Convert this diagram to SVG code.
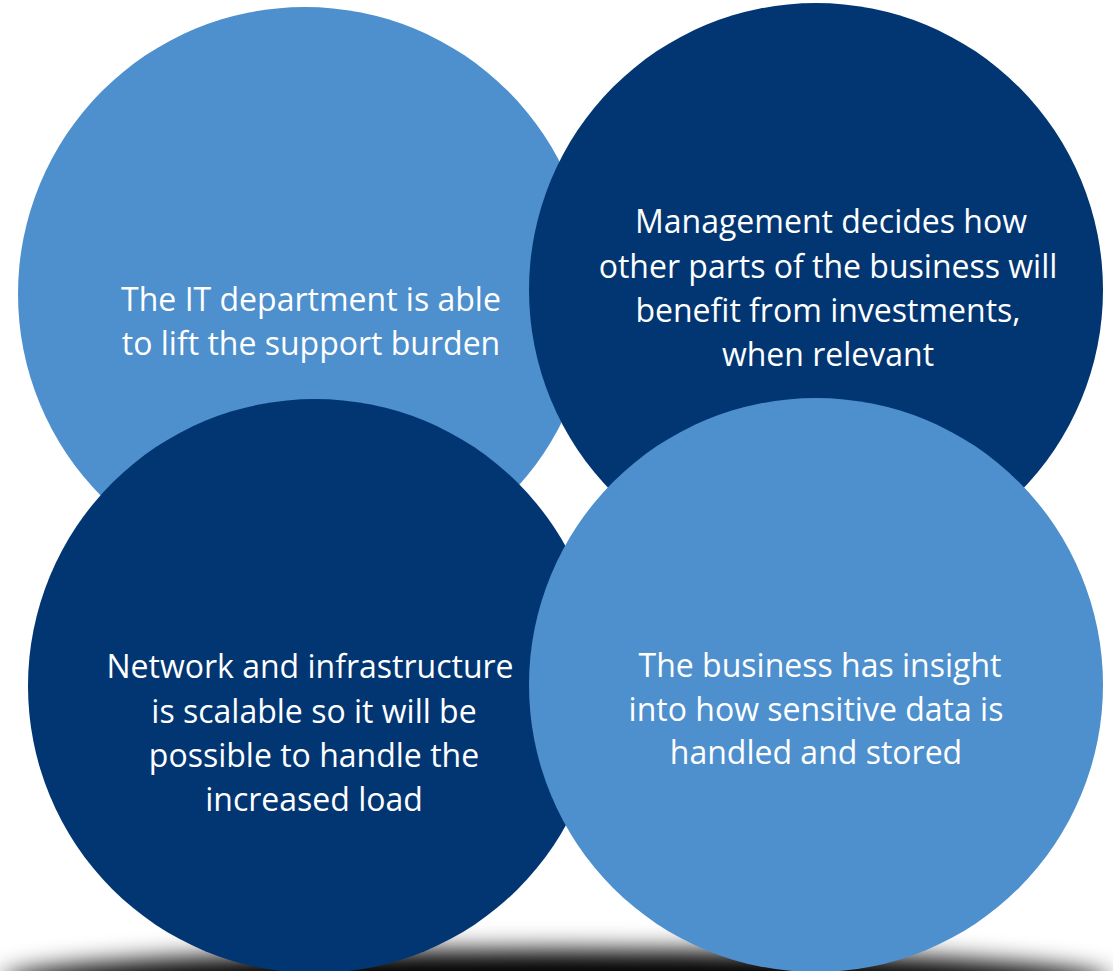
<svg xmlns="http://www.w3.org/2000/svg" width="1113" height="971" viewBox="0 0 1113 971">
<style>
.light{fill:#4d90cd}
.dark{fill:#013673}
text{font-family:"Open Sans","Noto Sans",sans-serif;font-size:32px;fill:#ffffff;text-anchor:middle}
</style>
<defs>
<filter id="blur" x="-20%" y="-200%" width="140%" height="500%"><feGaussianBlur stdDeviation="12"/></filter>
</defs>
<rect width="1113" height="971" fill="#ffffff"/>
<ellipse cx="556" cy="982" rx="555" ry="32" fill="#000000" filter="url(#blur)"/>
<g id="node1"><circle class="light" cx="305" cy="294" r="287"/>
<text x="311" y="311">The IT department is able</text>
<text x="311" y="355">to lift the support burden</text></g>
<g id="node2"><circle class="dark" cx="816" cy="290" r="287"/>
<text x="831" y="233">Management decides how</text>
<text x="828" y="278">other parts of the business will</text>
<text x="828" y="322">benefit from investments,</text>
<text x="828" y="366">when relevant</text></g>
<g id="node3"><circle class="dark" cx="315" cy="686" r="287"/>
<text x="310" y="678">Network and infrastructure</text>
<text x="314" y="723">is scalable so it will be</text>
<text x="314" y="767">possible to handle the</text>
<text x="314" y="811">increased load</text></g>
<g id="node4"><circle class="light" cx="816" cy="685" r="287"/>
<text x="820" y="677">The business has insight</text>
<text x="816" y="721">into how sensitive data is</text>
<text x="816" y="764">handled and stored</text></g>
<g id="connectors"></g>
</svg>
